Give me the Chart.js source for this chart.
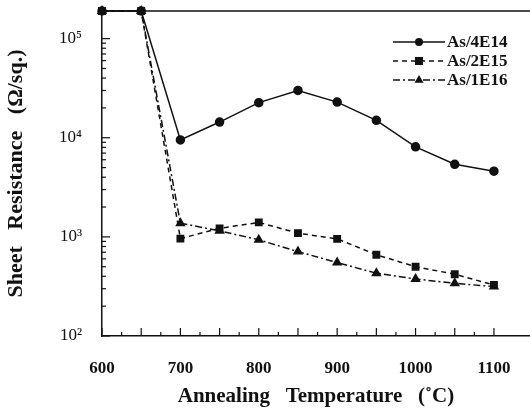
<!DOCTYPE html>
<html>
<head>
<meta charset="utf-8">
<script src="https://cdn.jsdelivr.net/npm/chart.js@4/dist/chart.umd.min.js"></script>
<style>
  html, body { margin: 0; padding: 0; background: #fff; }
  #wrap { width: 530px; height: 415px; position: relative; }
</style>
</head>
<body>
<div id="wrap"><canvas id="chart"></canvas></div>
<script>
// annealing temperatures (°C)
const temps = [600, 650, 700, 750, 800, 850, 900, 950, 1000, 1050, 1100];
// sheet resistance (ohm/sq)
const as4e14 = [190000, 190000, 9500, 14400, 22600, 30000, 22900, 15000, 8100, 5400, 4600];
const as2e15 = [190000, 190000, 960, 1220, 1400, 1090, 955, 660, 500, 420, 327];
const as1e16 = [190000, 190000, 1375, 1150, 935, 710, 550, 430, 376, 340, 315];
const seriesNames = ["As/4E14", "As/2E15", "As/1E16"];
const supers = { 2: "\u00b2", 3: "\u00b3", 4: "\u2074", 5: "\u2075" };

const ink = "#111";
const serif = "'Liberation Serif', 'DejaVu Serif', serif";

const toPoints = (vals) => temps.map((t, i) => ({ x: t, y: vals[i] }));

// inward ticks, top frame line and the legend box in the upper right
const decorPlugin = {
  id: "decor",
  afterDraw(chart) {
    const ctx = chart.ctx;
    const area = chart.chartArea;
    const xs = chart.scales.x;
    const ys = chart.scales.y;
    ctx.save();
    ctx.strokeStyle = ink;
    ctx.lineWidth = 1.5;
    ctx.beginPath();
    ctx.moveTo(area.left, area.top);
    ctx.lineTo(area.right, area.top);
    ctx.stroke();

    ctx.lineWidth = 1.2;
    xs.ticks.forEach((t) => {
      if (t.value % 25 !== 0) return;
      const px = xs.getPixelForValue(t.value);
      const len = t.value % 50 === 0 ? 8 : 4;
      ctx.beginPath();
      ctx.moveTo(px, area.bottom);
      ctx.lineTo(px, area.bottom - len);
      ctx.stroke();
    });
    ys.ticks.forEach((t) => {
      const e = Math.floor(Math.log10(t.value) + 1e-9);
      const m = t.value / Math.pow(10, e);
      if (Math.abs(m - Math.round(m)) > 1e-6) return;
      const py = ys.getPixelForValue(t.value);
      const len = Math.round(m) === 1 ? 8 : 4;
      ctx.beginPath();
      ctx.moveTo(area.left, py);
      ctx.lineTo(area.left + len, py);
      ctx.stroke();
    });

    // legend
    ctx.font = "bold 17px " + serif;
    ctx.textBaseline = "middle";
    ctx.fillStyle = ink;
    chart.data.datasets.forEach((ds, i) => {
      const y = 42 + i * 19;
      ctx.lineWidth = 1.5;
      ctx.setLineDash(ds.borderDash || []);
      ctx.beginPath();
      ctx.moveTo(393, y);
      ctx.lineTo(445, y);
      ctx.stroke();
      ctx.setLineDash([]);
      drawMarker(ctx, ds.pointStyle, 419, y, 4);
      ctx.fillText(ds.label, 447, y + 1);
    });
    ctx.restore();
  }
};

function drawMarker(ctx, style, x, y, r) {
  ctx.beginPath();
  if (style === "rect") {
    ctx.rect(x - r, y - r, 2 * r, 2 * r);
  } else if (style === "triangle") {
    ctx.moveTo(x, y - r - 1);
    ctx.lineTo(x + r + 0.5, y + r * 0.7);
    ctx.lineTo(x - r - 0.5, y + r * 0.7);
    ctx.closePath();
  } else {
    ctx.arc(x, y, r, 0, Math.PI * 2);
  }
  ctx.fill();
}

new Chart(document.getElementById("chart"), {
  type: "line",
  data: {
    datasets: [
      {
        label: seriesNames[0],
        data: toPoints(as4e14),
        borderColor: ink,
        backgroundColor: ink,
        borderWidth: 1.5,
        pointStyle: "circle",
        pointRadius: 4,
        clip: false,
        order: 2,
      },
      {
        label: seriesNames[1],
        data: toPoints(as2e15),
        borderColor: ink,
        backgroundColor: ink,
        borderWidth: 1.5,
        borderDash: [5, 4],
        pointStyle: "rect",
        pointRadius: 4.5,
        clip: false,
        order: 0,
      },
      {
        label: seriesNames[2],
        data: toPoints(as1e16),
        borderColor: ink,
        backgroundColor: ink,
        borderWidth: 1.5,
        borderDash: [7, 3, 2, 3],
        pointStyle: "triangle",
        pointRadius: 4.5,
        clip: false,
        order: 1,
      },
    ],
  },
  options: {
    responsive: true,
    maintainAspectRatio: false,
    devicePixelRatio: 1,
    animation: false,
    layout: { autoPadding: false, padding: { top: 11, right: 0, left: 0, bottom: 0 } },
    plugins: { legend: { display: false }, tooltip: { enabled: false } },
    scales: {
      x: {
        type: "linear",
        min: 600,
        max: 1146,
        grid: { display: false, drawTicks: false },
        border: { display: true, color: ink, width: 1.5 },
        ticks: {
          stepSize: 25,
          autoSkip: false,
          maxRotation: 0,
          padding: 22,
          color: ink,
          font: { family: serif, size: 17, weight: "bold" },
          callback: (v) => (v % 100 === 0 ? String(v) : ""),
        },
        title: {
          display: true,
          text: "Annealing   Temperature   (\u02daC)",
          color: ink,
          font: { family: serif, size: 21, weight: "bold" },
          padding: { top: 0, bottom: 6 },
        },
        afterFit: (s) => {
          s.height = 79;
          s.paddingLeft = 0;
          s.paddingRight = 0;
        },
      },
      y: {
        type: "logarithmic",
        min: 100,
        max: 190000,
        grid: { display: false, drawTicks: false },
        border: { display: true, color: ink, width: 1.5 },
        ticks: {
          autoSkip: false,
          padding: 20,
          color: ink,
          font: { family: serif, size: 17 },
          callback: (v) => {
            const e = Math.log10(v);
            return Math.abs(e - Math.round(e)) < 1e-9 ? "10" + supers[Math.round(e)] : "";
          },
        },
        title: {
          display: true,
          text: "Sheet   Resistance   (\u03a9/sq.)",
          color: ink,
          font: { family: serif, size: 22, weight: "bold" },
          padding: { top: 3, bottom: 0 },
        },
        afterFit: (s) => {
          s.width = 102;
          s.paddingTop = 0;
          s.paddingBottom = 0;
        },
      },
    },
  },
  plugins: [decorPlugin],
});
</script>
</body>
</html>
